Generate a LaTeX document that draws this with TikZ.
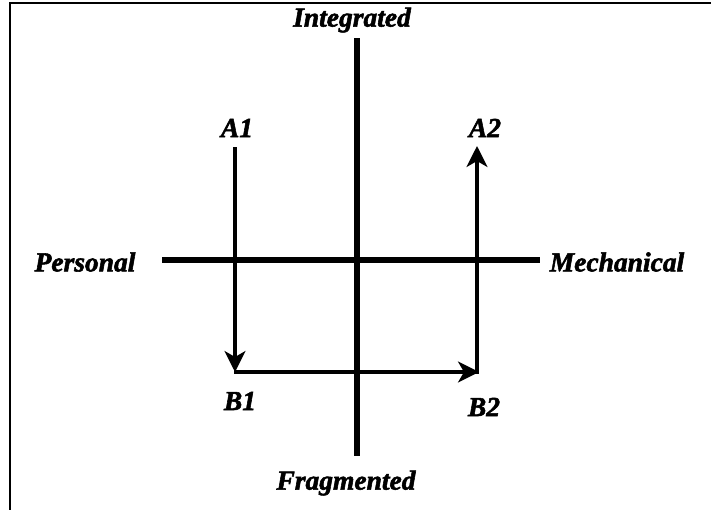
\documentclass[tikz,border=0pt]{standalone}
\usepackage{fontspec}
\setmainfont{Liberation Serif}
\newfontfamily\heavyfont[FakeBold=2]{Liberation Serif}
\usetikzlibrary{arrows.meta}
\begin{document}
\begin{tikzpicture}[x=1pt,y=-1pt,
  lbl/.style={font=\heavyfont\fontsize{27.5}{32}\selectfont\bfseries\itshape, inner sep=0pt},
  axis/.style={line width=6.5pt},
  flow/.style={line width=3.2pt, -{Stealth[length=21pt,width=21pt,inset=6pt]}}]
\useasboundingbox (0,0) rectangle (711,509);
\draw[line width=2.2pt] (10,520) -- (10,3) -- (720,3);
\node[lbl] (int) at (352,20) {Integrated};
\node[lbl] (frag) at (346,483) {Fragmented};
\node[lbl] (pers) at (85,262) {Personal};
\node[lbl] (mech) at (617,262) {Mechanical};
\node[lbl] (a1) at (237,128) {A1};
\node[lbl] (a2) at (485,128) {A2};
\node[lbl] (b1) at (240,401) {B1};
\node[lbl] (b2) at (484,407) {B2};
\coordinate (vt) at (357,38);
\coordinate (vb) at (357,456);
\coordinate (hl) at (162,260);
\coordinate (hr) at (540,260);
\draw[axis] (vt) -- (vb);
\draw[axis] (hl) -- (hr);
\coordinate (a1s) at (235,147);
\coordinate (c1) at (235,372);
\coordinate (c1r) at (234,372);
\coordinate (c2) at (479,372);
\coordinate (c2b) at (477,373.6);
\coordinate (a2s) at (477,146);
\draw[flow] (a1s) -- (c1);
\draw[flow] (c1r) -- (c2);
\draw[flow] (c2b) -- (a2s);
\end{tikzpicture}
\end{document}
